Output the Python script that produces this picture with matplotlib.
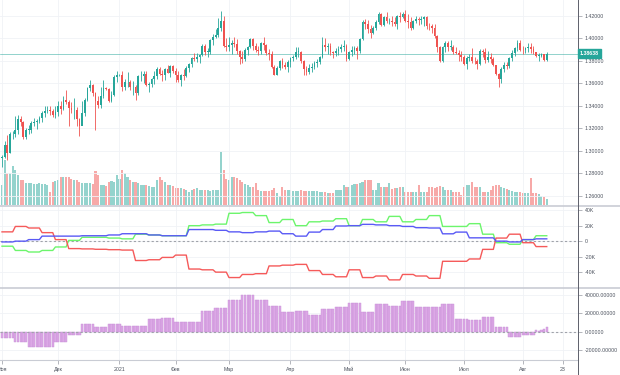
import numpy as np
import matplotlib
matplotlib.use('Agg')
import matplotlib.pyplot as plt
from matplotlib.lines import Line2D

plt.rcParams['font.family'] = ['Liberation Sans', 'DejaVu Sans']

# ---------------- data ----------------
first_open = 1.2940
close = [
 1.2945,1.3050,1.2985,1.3150,1.3150,1.3185,1.3280,1.3260,1.3120,1.3190,
 1.3190,1.3245,1.3255,1.3265,1.3290,1.3335,1.3350,1.3365,1.3355,1.3315,
 1.3345,1.3395,1.3370,1.3450,1.3435,1.3380,1.3360,1.3365,1.3285,1.3225,
 1.3340,1.3450,1.3560,1.3585,1.3515,1.3445,1.3405,1.3490,1.3555,1.3550,
 1.3440,1.3495,1.3660,1.3670,1.3675,1.3570,1.3610,1.3610,1.3565,1.3565,
 1.3515,1.3665,1.3665,1.3680,1.3585,1.3595,1.3640,1.3665,1.3730,1.3685,
 1.3675,1.3730,1.3695,1.3755,1.3705,1.3675,1.3630,1.3670,1.3665,1.3735,
 1.3770,1.3825,1.3820,1.3830,1.3850,1.3930,1.3880,1.3880,1.3985,1.4010,
 1.4025,1.4095,1.4150,1.3930,1.3925,1.3940,1.3955,1.3950,1.3885,1.3835,
 1.3820,1.3895,1.3925,1.3990,1.3930,1.3900,1.3885,1.3955,1.3940,1.3865,
 1.3860,1.3745,1.3675,1.3740,1.3795,1.3765,1.3745,1.3785,1.3825,1.3835,
 1.3880,1.3880,1.3795,1.3725,1.3700,1.3740,1.3745,1.3780,1.3790,1.3835,
 1.3940,1.3925,1.3935,1.3875,1.3870,1.3890,1.3905,1.3920,1.3935,1.3820,
 1.3875,1.3895,1.3910,1.3885,1.3995,1.4140,1.4130,1.4085,1.4050,1.4095,
 1.4145,1.4215,1.4120,1.4185,1.4150,1.4150,1.4145,1.4125,1.4195,1.4190,
 1.4215,1.4150,1.4145,1.4090,1.4155,1.4170,1.4165,1.4170,1.4190,1.4110,
 1.4105,1.4095,1.4020,1.3920,1.3800,1.3925,1.3955,1.3925,1.3925,1.3880,
 1.3870,1.3850,1.3830,1.3770,1.3825,1.3835,1.3800,1.3795,1.3770,1.3890,
 1.3875,1.3805,1.3830,1.3815,1.3760,1.3685,1.3635,1.3725,1.3765,1.3755,
 1.3825,1.3870,1.3910,1.3960,1.3900,1.3895,1.3910,1.3925,1.3905,1.3875,
 1.3845,1.3845,1.3860,1.3805,1.38638]
high = [
 1.2960,1.3090,1.3140,1.3165,1.3175,1.3310,1.3315,1.3310,1.3265,1.3205,
 1.3230,1.3265,1.3290,1.3285,1.3310,1.3355,1.3395,1.3400,1.3395,1.3375,
 1.3395,1.3445,1.3445,1.3490,1.3540,1.3450,1.3430,1.3470,1.3390,1.3295,
 1.3440,1.3470,1.3570,1.3625,1.3595,1.3520,1.3490,1.3570,1.3625,1.3565,
 1.3555,1.3530,1.3670,1.3705,1.3685,1.3705,1.3635,1.3700,1.3625,1.3620,
 1.3585,1.3675,1.3710,1.3710,1.3710,1.3610,1.3645,1.3710,1.3745,1.3745,
 1.3720,1.3740,1.3760,1.3760,1.3760,1.3735,1.3710,1.3680,1.3725,1.3750,
 1.3780,1.3830,1.3865,1.3865,1.3860,1.3950,1.3950,1.3915,1.3995,1.4035,
 1.4080,1.4180,1.4240,1.4200,1.4000,1.4010,1.3985,1.4015,1.3990,1.3895,
 1.3890,1.3915,1.3935,1.4000,1.4000,1.3955,1.3935,1.3965,1.4015,1.3950,
 1.3905,1.3885,1.3760,1.3750,1.3805,1.3825,1.3790,1.3805,1.3835,1.3850,
 1.3920,1.3920,1.3890,1.3810,1.3750,1.3770,1.3780,1.3800,1.3820,1.3845,
 1.4010,1.4000,1.3960,1.3960,1.3890,1.3915,1.3930,1.3950,1.3980,1.3945,
 1.3890,1.3935,1.3930,1.3930,1.4005,1.4165,1.4170,1.4165,1.4115,1.4105,
 1.4165,1.4235,1.4220,1.4200,1.4235,1.4180,1.4200,1.4185,1.4205,1.4235,
 1.4230,1.4250,1.4215,1.4185,1.4165,1.4195,1.4185,1.4200,1.4200,1.4200,
 1.4135,1.4130,1.4125,1.4030,1.3935,1.3935,1.3975,1.3975,1.3985,1.3940,
 1.3925,1.3895,1.3890,1.3850,1.3840,1.3860,1.3910,1.3830,1.3820,1.3905,
 1.3905,1.3910,1.3885,1.3865,1.3835,1.3765,1.3695,1.3745,1.3785,1.3785,
 1.3830,1.3895,1.3925,1.3985,1.3985,1.3930,1.3925,1.3960,1.3955,1.3930,
 1.3880,1.3865,1.3870,1.3860,1.3875]
low = [
 1.2855,1.2935,1.2915,1.2985,1.3110,1.3125,1.3150,1.3220,1.3105,1.3110,
 1.3150,1.3160,1.3225,1.3195,1.3245,1.3260,1.3300,1.3335,1.3320,1.3300,
 1.3290,1.3310,1.3325,1.3360,1.3415,1.3225,1.3340,1.3285,1.3225,1.3135,
 1.3300,1.3310,1.3440,1.3530,1.3485,1.3190,1.3380,1.3385,1.3470,1.3540,
 1.3430,1.3430,1.3490,1.3610,1.3665,1.3530,1.3540,1.3570,1.3540,1.3500,
 1.3450,1.3500,1.3620,1.3605,1.3575,1.3520,1.3570,1.3590,1.3640,1.3670,
 1.3620,1.3630,1.3690,1.3660,1.3690,1.3610,1.3615,1.3575,1.3625,1.3660,
 1.3700,1.3745,1.3795,1.3790,1.3780,1.3840,1.3850,1.3835,1.3860,1.3940,
 1.4000,1.4010,1.4060,1.3920,1.3890,1.3885,1.3860,1.3920,1.3860,1.3775,
 1.3780,1.3800,1.3855,1.3910,1.3900,1.3880,1.3850,1.3860,1.3900,1.3855,
 1.3810,1.3735,1.3670,1.3670,1.3720,1.3740,1.3730,1.3700,1.3745,1.3800,
 1.3820,1.3830,1.3780,1.3670,1.3670,1.3680,1.3700,1.3725,1.3745,1.3770,
 1.3825,1.3885,1.3860,1.3850,1.3825,1.3845,1.3855,1.3875,1.3885,1.3800,
 1.3805,1.3845,1.3860,1.3820,1.3865,1.3985,1.4085,1.4045,1.4005,1.4035,
 1.4075,1.4130,1.4110,1.4110,1.4135,1.4130,1.4105,1.4110,1.4085,1.4145,
 1.4180,1.4140,1.4095,1.4070,1.4080,1.4135,1.4115,1.4130,1.4105,1.4080,
 1.4070,1.4045,1.4000,1.3880,1.3790,1.3785,1.3880,1.3890,1.3895,1.3860,
 1.3860,1.3795,1.3800,1.3760,1.3730,1.3800,1.3780,1.3770,1.3730,1.3765,
 1.3835,1.3780,1.3790,1.3780,1.3750,1.3670,1.3570,1.3600,1.3700,1.3730,
 1.3740,1.3800,1.3845,1.3885,1.3890,1.3860,1.3870,1.3880,1.3870,1.3860,
 1.3835,1.3800,1.3830,1.3800,1.3795]
volume = [
 20,45,32,32,39,35,30,25,25,22, 22,22,21,21,22,21,21,20,13,23,
 24,25,28,28,28,28,26,25,25,23, 22,22,22,22,21,34,30,20,20,19,
 23,24,23,30,26,35,32,28,25,23, 23,22,20,20,20,19,18,18,25,28,
 25,23,20,20,19,17,17,17,16,15, 13,15,16,17,15,15,15,15,14,15,
 15,15,53,35,26,25,28,28,27,25, 23,21,20,18,18,22,15,14,14,14,
 14,15,17,12,9,18,15,15,15,14,  14,14,15,14,14,14,14,14,14,13,
 13,13,12,12,12,15,15,15,20,18, 18,20,21,21,22,23,25,25,25,15,
 15,22,18,18,18,22,16,17,17,18, 18,13,13,13,13,13,20,13,13,13,
 18,18,17,18,19,18,15,15,15,13, 13,13,10,18,20,20,23,18,18,18,
 13,13,13,15,19,20,20,18,17,16, 15,14,13,13,13,12,12,12,27,12,
 12,11,9,8,6]

# weekly positioning data (thousands of contracts), one value per 5-bar week
green_w = [-6.5,-12,-14,-12,-7.5,1,5,5,4,3,9,8,7,7,20,21,22,36,37,33,24,28,20,
           25,26,29,20,28,25,32,25,28,33,19,19,22.6,9,-2,-4,2,7]
red_w = [12,19,17,11,2,-9.6,-10,-10.5,-11,-11.5,-25,-24,-21,-18,-36,-37,-40,-47,
         -43,-42,-32,-31,-30,-38,-43,-46,-37,-47,-45,-50,-43,-45,-48,-26,-26,-23,
         -10.6,4,9,-2,-7]
blue_w = [-1,0,2,6.5,6.5,6.5,7,7,8,9.6,9.6,8,7,7,15,15,14,12,11,12,13,9.6,6.5,
          11.7,15,19.6,20,21.7,21,20,19,17.4,17,9.5,11.7,4.3,4.3,0,-1,2,3]
hist_w = [-6.5,-11.6,-16.4,-16.4,-11.6,-3.6,8,5.5,8,6.5,6.5,13.5,15,11,11,22.5,
          25.5,34.5,40,34.5,28,21,23,18,24.7,27,31,21,30,28,33.5,27,27,30.5,
          13.5,12.7,15.6,5.5,-6,-3.6]
hist_last_days = [1.5,1.0,2.0,2.5,5.5]

month_labels = ['Ноя','Дек','2021','Фев','Мар','Апр','Май','Июн','Июл','Авг','23']
month_pos = [0,21,44,65,85,108,130,151,173,195,210]
price_ticks = [1.26,1.28,1.30,1.32,1.34,1.36,1.38,1.40,1.42]
cot_ticks = [-40000,-20000,0,20000,40000]
cot_labels = ['-40K','-20K','0','20K','40K']
hist_ticks = [-20000,0,20000,40000]
last_price = 1.38638

# ---------------- style ----------------
UP = '#26a69a'
DN = '#ef5350'
UPV = '#94d3cd'
DNV = '#f7a9a8'
GRID = '#f0f2f6'
TXT = '#4c525e'
FS = 3.8

W, H = 620, 375
fig = plt.figure(figsize=(6.2, 3.75), dpi=100)
fig.patch.set_facecolor('white')

def box(top, bottom):
    return [0, 1 - bottom / H, 578 / W, (bottom - top) / H]

n = len(close)
x = np.arange(n)
xlim = (-0.75, 215.7)

ax1 = fig.add_axes(box(0, 205))
ax2 = fig.add_axes(box(205, 287))
ax3 = fig.add_axes(box(287, 360))

# ---- main price pane ----
o = np.array([first_open] + close[:-1])
c = np.array(close)
hi = np.array(high)
lo = np.array(low)
up = c >= o
cols = np.where(up, UP, DN)
vcols = np.where(up, UPV, DNV)

axv = ax1.twinx()
axv.set_ylim(0, 205)
axv.set_xlim(*xlim)
axv.axis('off')
axv.bar(x, volume, width=0.78, color=vcols, lw=0, zorder=1)

for ax in (ax1, ax2, ax3):
    ax.set_xlim(*xlim)
    for s in ax.spines.values():
        s.set_visible(False)
    ax.set_xticks(month_pos)
    ax.tick_params(axis='x', length=0, labelbottom=False)
    ax.yaxis.tick_right()
    ax.tick_params(axis='y', left=False, labelleft=False, right=True,
                   labelright=True, length=3, width=0.5, color='#9598a1',
                   labelsize=FS, labelcolor=TXT, pad=2)
    ax.grid(True, color=GRID, lw=0.6)
    ax.set_axisbelow(True)

ax1.set_ylim(1.25201, 1.43393)
ax1.set_yticks(price_ticks)
ax1.set_yticklabels([f'{v:.5f}' for v in price_ticks])
ax1.vlines(x, lo, hi, colors=cols, lw=0.6, zorder=3)
ax1.bar(x, np.maximum(np.abs(c - o), 0.00035), bottom=np.minimum(o, c),
        width=0.66, color=cols, lw=0, zorder=4)
ax1.axhline(last_price, color=UP, lw=0.5, alpha=0.7, zorder=2)
ax1.set_zorder(axv.get_zorder() + 1)
ax1.patch.set_visible(False)

yfrac = 1 - (205 - (last_price - 1.25201) / (1.43393 - 1.25201) * 205) / H
fig.text(580 / W, yfrac, '1.38638', fontsize=FS, color='white', va='center',
         ha='left', fontweight='bold',
         bbox=dict(boxstyle='square,pad=0.35', fc=UP, ec=UP))

# ---- COT lines pane ----
def step_xy(vals):
    xs, ys = [], []
    for w, v in enumerate(vals):
        xs += [5 * w, 5 * w + 4]
        ys += [v * 1000, v * 1000]
    return xs, ys

ax2.set_ylim(-59200, 46700)
ax2.set_yticks(cot_ticks)
ax2.set_yticklabels(cot_labels)
ax2.axhline(0, color='#a0a3aa', lw=0.8, ls=(0, (2, 2)), zorder=2)
for vals, col in ((green_w, '#6cf56c'), (red_w, '#f55a5a'), (blue_w, '#5a5af5')):
    xs, ys = step_xy(vals)
    ax2.plot(xs, ys, color=col, lw=1.0, zorder=3)

# ---- histogram pane ----
hist_daily = np.concatenate([np.repeat(np.array(hist_w) * 1000, 5),
                             np.array(hist_last_days) * 1000])
ax3.set_ylim(-30900, 48800)
ax3.set_yticks(hist_ticks)
ax3.set_yticklabels([f'{v:.5f}' for v in hist_ticks])
ax3.bar(np.arange(len(hist_daily)), hist_daily, width=0.85, color='#dca8e6',
        edgecolor='#c68fd6', lw=0.3, zorder=3)
ax3.axhline(0, color='#a0a3aa', lw=0.8, ls=(0, (2, 2)), zorder=4)
ax3.tick_params(axis='x', length=3, width=0.5, color='#9598a1',
                labelbottom=True, labelsize=FS, labelcolor=TXT, pad=2)
ax3.set_xticklabels(month_labels)

# ---- separators ----
def hline(ypx, x1=1.0, col='#d1d4dc', lw=1.0):
    fig.add_artist(Line2D([0, x1], [1 - ypx / H] * 2, color=col, lw=lw,
                          transform=fig.transFigure))
hline(205.5, col='#c9ccd4', lw=1.2)
hline(287.5, col='#c9ccd4', lw=1.2)
hline(360, x1=578 / W, col='#c9ccd4', lw=0.8)
fig.add_artist(Line2D([578 / W] * 2, [0, 1], color='#5d606b', lw=0.7,
                      transform=fig.transFigure))

fig.savefig('out.png', dpi=100, facecolor='white')
